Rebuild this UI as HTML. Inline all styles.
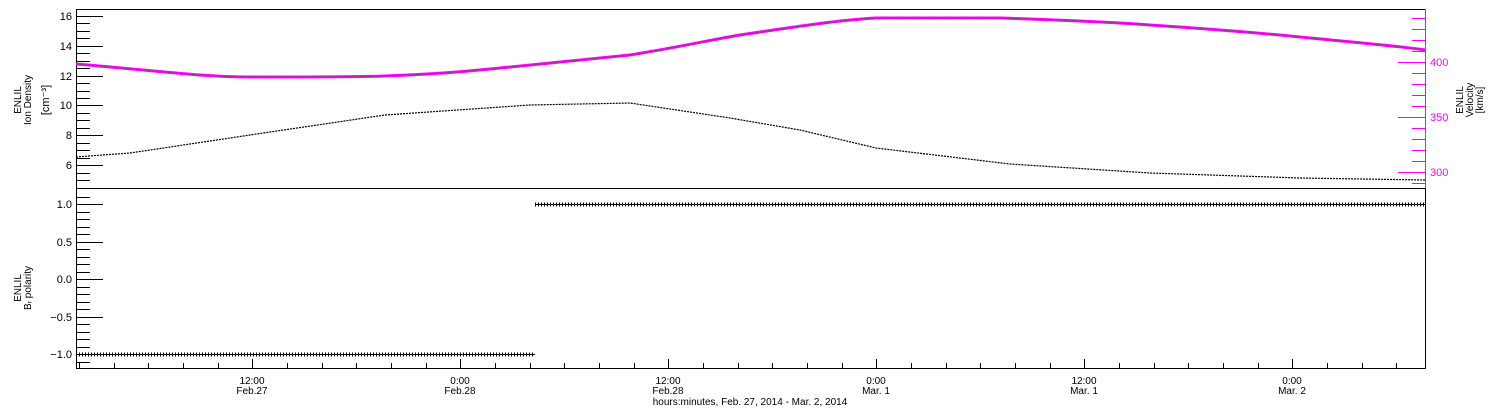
<!DOCTYPE html>
<html><head><style>body{margin:0;background:#fff}svg{display:block}text{font-family:"Liberation Sans",sans-serif}</style></head><body>
<svg width="1500" height="410" xmlns="http://www.w3.org/2000/svg">
<g stroke="#000" stroke-width="1" fill="none">
<rect x="76.5" y="9.5" width="1349" height="359"/>
<line x1="76" y1="188.5" x2="1425" y2="188.5"/>
</g>
<g stroke="#000" stroke-width="1">
<path d="M76 16.5h27M76 46.5h27M76 76.5h27M76 105.5h27M76 135.5h27M76 165.5h27
M76 23.5h14M76 31.5h14M76 38.5h14M76 53.5h14M76 61.5h14M76 68.5h14M76 83.5h14M76 91.5h14M76 98.5h14M76 113.5h14M76 120.5h14M76 128.5h14M76 143.5h14M76 150.5h14M76 158.5h14M76 173.5h14M76 180.5h14"/>
<path d="M76 204.5h27M76 242.5h27M76 279.5h27M76 317.5h27M76 354.5h27
M76 212.5h14M76 219.5h14M76 227.5h14M76 234.5h14M76 249.5h14M76 257.5h14M76 264.5h14M76 272.5h14M76 287.5h14M76 294.5h14M76 302.5h14M76 309.5h14M76 324.5h14M76 332.5h14M76 339.5h14M76 347.5h14M76 362.5h14M76 197.5h14"/>
<path d="M252.5 368v-9M460.5 368v-9M668.5 368v-9M876.5 368v-9M1084.5 368v-9M1292.5 368v-9
M79.5 368v-5M114.5 368v-5M148.5 368v-5M183.5 368v-5M218.5 368v-5M287.5 368v-5M322.5 368v-5M356.5 368v-5M391.5 368v-5M426.5 368v-5M495.5 368v-5M530.5 368v-5M564.5 368v-5M599.5 368v-5M634.5 368v-5M703.5 368v-5M738.5 368v-5M772.5 368v-5M807.5 368v-5M842.5 368v-5M911.5 368v-5M946.5 368v-5M980.5 368v-5M1015.5 368v-5M1050.5 368v-5M1119.5 368v-5M1154.5 368v-5M1188.5 368v-5M1223.5 368v-5M1258.5 368v-5M1327.5 368v-5M1362.5 368v-5M1396.5 368v-5"/>
</g>
<g stroke="#ff00ff" stroke-width="1">
<line x1="1425.5" y1="9" x2="1425.5" y2="188"/>
<path d="M1425 62.5h-27M1425 117.5h-27M1425 172.5h-27
M1425 18.5h-13M1425 29.5h-13M1425 40.5h-13M1425 51.5h-13M1425 73.5h-13M1425 84.5h-13M1425 95.5h-13M1425 106.5h-13M1425 128.5h-13M1425 139.5h-13M1425 150.5h-13M1425 161.5h-13M1425 183.5h-13"/>
</g>
<g font-size="11" fill="#ff00ff"><text x="1430" y="66">400</text><text x="1430" y="121">350</text><text x="1430" y="176">300</text></g>
<g font-size="11" fill="#000" text-anchor="end">
<text x="72" y="20">16</text><text x="72" y="50">14</text><text x="72" y="80">12</text><text x="72" y="109">10</text><text x="72" y="139">8</text><text x="72" y="169">6</text>
<text x="72" y="208">1.0</text><text x="72" y="246">0.5</text><text x="72" y="283">0.0</text><text x="72" y="321">−0.5</text><text x="72" y="358">−1.0</text>
</g>
<g font-size="10" fill="#000">
<text transform="translate(21,100) rotate(-90)" text-anchor="middle">ENLIL</text>
<text transform="translate(31,100) rotate(-90)" text-anchor="middle">Ion Density</text>
<text transform="translate(49,100) rotate(-90)" text-anchor="middle" font-size="11">[cm⁻³]</text>
<text transform="translate(21,288) rotate(-90)" text-anchor="middle">ENLIL</text>
<text transform="translate(31,288) rotate(-90)" text-anchor="middle">Bᵣ polarity</text>
<text transform="translate(1463,100) rotate(-90)" text-anchor="middle">ENLIL</text>
<text transform="translate(1473,100) rotate(-90)" text-anchor="middle">Velocity</text>
<text transform="translate(1483,100) rotate(-90)" text-anchor="middle">[km/s]</text>
</g>
<g font-size="10" fill="#000" text-anchor="middle">
<text x="252" y="384">12:00</text><text x="252" y="394">Feb.27</text>
<text x="460" y="384">0:00</text><text x="460" y="394">Feb.28</text>
<text x="668" y="384">12:00</text><text x="668" y="394">Feb.28</text>
<text x="876" y="384">0:00</text><text x="876" y="394">Mar. 1</text>
<text x="1084" y="384">12:00</text><text x="1084" y="394">Mar. 1</text>
<text x="1292" y="384">0:00</text><text x="1292" y="394">Mar. 2</text>
<text x="750" y="405">hours:minutes, Feb. 27, 2014 - Mar. 2, 2014</text>
</g>
<path d="M76 64 C150 70 200 77 250 77 C310 77 350 77 385 76 C440 74 470 71 500 68 C560 62 600 58 630 55 C680 47 710 40 740 35 C800 26 840 20 876 18 L1000 18 C1060 20 1110 22 1150 25 C1210 29 1260 33 1300 37 C1350 42 1390 45 1425 50" fill="none" stroke="#ff00ff" stroke-width="3"/>
<path d="M76 64 C150 70 200 77 250 77 C310 77 350 77 385 76 C440 74 470 71 500 68 C560 62 600 58 630 55 C680 47 710 40 740 35 C800 26 840 20 876 18 L1000 18 C1060 20 1110 22 1150 25 C1210 29 1260 33 1300 37 C1350 42 1390 45 1425 50" fill="none" stroke="#555" stroke-width="1" stroke-dasharray="2 2"/>
<path d="M76 157 L130 153 L250 135 L385 115 L530 105 L630 103 L730 118 L800 130 L876 148 L1010 164 L1150 173 L1300 178 L1425 180" fill="none" stroke="#000" stroke-width="1.2" stroke-dasharray="2 1"/>
<g stroke="#000" stroke-width="1">
<line x1="76" y1="354.5" x2="535" y2="354.5"/><line x1="535" y1="204.5" x2="1425" y2="204.5"/>
<line x1="76" y1="354.5" x2="535" y2="354.5" stroke-width="4" stroke-dasharray="1 2"/>
<line x1="535" y1="204.5" x2="1425" y2="204.5" stroke-width="4" stroke-dasharray="1 2"/>
</g>
</svg>
</body></html>
